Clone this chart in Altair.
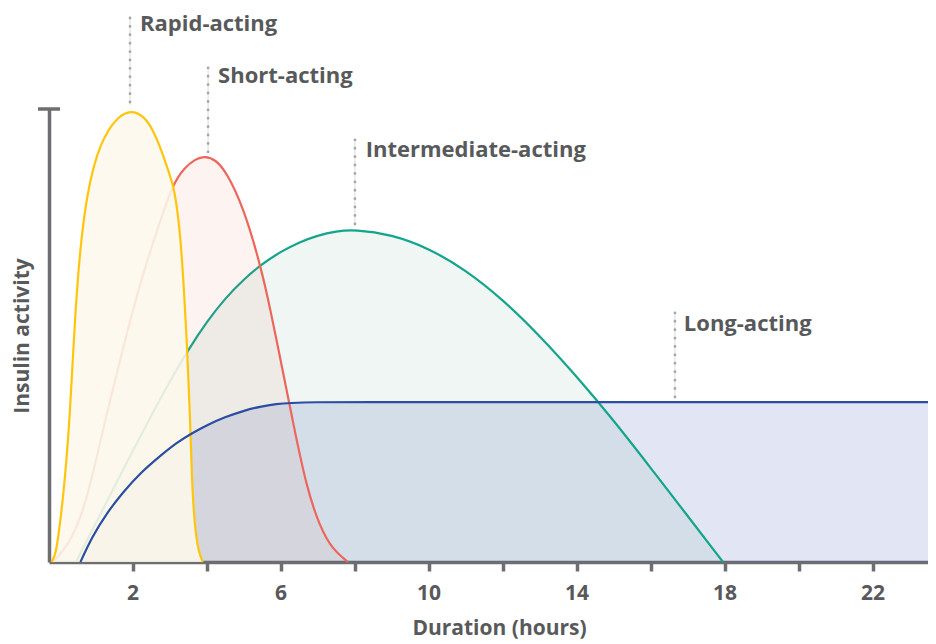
import altair as alt
import pandas as pd

# ---- data (hours vs. relative insulin activity, 0-100) ----
rapid_hours = [-0.19, -0.08, 0.03, 0.17, 0.31, 0.40, 0.50, 0.62, 0.77, 0.95, 1.12, 1.35, 1.60, 1.95,
               2.30, 2.55, 2.80, 3.00, 3.09, 3.20, 3.30, 3.39, 3.47, 3.55, 3.60, 3.68, 3.78, 3.90]
rapid_activity = [0, 1.5, 7.8, 18, 33, 47.5, 61, 72, 81, 87.5, 91.8, 95.5, 98.2, 99.8,
                  98.5, 95.5, 90.5, 85.5, 83.4, 78.5, 71, 60, 48, 33, 18, 7.8, 2.2, 0]

short_hours = [-0.15, 0.25, 0.66, 1.00, 1.30, 1.75, 2.20, 2.65, 3.08, 3.40, 3.70, 3.95, 4.25, 4.54,
               4.99, 5.44, 5.71, 6.07, 6.34, 6.70, 7.06, 7.40, 7.82]
short_activity = [0, 3.5, 10.8, 22, 32.8, 47.5, 61.6, 73, 83.4, 87, 89, 89.6, 88.8, 86,
                  78.4, 66, 56.4, 41.7, 30.7, 16.5, 7.8, 2.8, 0]

inter_hours = [0.47, 1.0, 1.5, 2.0, 2.5, 3.0, 3.5, 4.0, 4.5, 5.0, 5.5, 6.0, 6.5, 7.0, 7.5, 8.0,
               9.0, 10.0, 11.0, 12.0, 13.0, 14.0, 15.0, 16.0, 17.0, 17.96]
inter_activity = [0, 8.5, 16.5, 24.5, 32.3, 39.8, 46.8, 53.0, 58.2, 62.4, 65.8, 68.5, 70.6, 72.1, 73.0, 73.4,
                  72.3, 69.3, 64.5, 58.0, 50.0, 41.0, 31.3, 20.8, 10.2, 0]

long_hours = [0.59, 0.90, 1.30, 1.75, 2.20, 2.74, 3.20, 3.60, 4.00, 4.50, 5.00, 5.44, 5.90, 6.25,
              6.90, 8.0, 12.0, 16.0, 20.0, 24.0]
long_activity = [0, 5.5, 10.8, 15.5, 19.6, 23.4, 26.4, 28.4, 30.2, 32.0, 33.4, 34.3, 34.9, 35.1,
                 35.3, 35.3, 35.3, 35.3, 35.3, 35.3]

ann_labels = ["Rapid-acting", "Short-acting", "Intermediate-acting", "Long-acting"]
ann_line_hour = [1.93, 4.04, 8.01, 16.66]
ann_line_top = [120.1, 109.1, 93.2, 55.0]
ann_line_bottom = [100.9, 90.3, 74.2, 36.0]
ann_text_hour = [2.20, 4.31, 8.30, 16.90]
ann_text_value = [118.8, 107.3, 91.0, 52.6]

tick_values = [2, 4, 6, 8, 10, 12, 14, 16, 18, 20, 22]

# ---- styling ----
AXIS_GRAY = "#6d6e71"
TEXT_GRAY = "#58595b"
FONT = "Open Sans"


def frame(name, h, v):
    return pd.DataFrame({"series": name, "hour": h, "activity": v})


rapid = frame("Rapid-acting", rapid_hours, rapid_activity)
short = frame("Short-acting", short_hours, short_activity)
inter = frame("Intermediate-acting", inter_hours, inter_activity)
longa = frame("Long-acting", long_hours, long_activity)

ann = pd.DataFrame({
    "label": ann_labels,
    "hour": ann_line_hour,
    "activity": ann_line_top,
    "activity2": ann_line_bottom,
    "text_hour": ann_text_hour,
    "text_value": ann_text_value,
})

x_scale = alt.Scale(domain=[-0.26, 23.5], nice=False, zero=False)
y_scale = alt.Scale(domain=[0, 100], nice=False, zero=True)

x_axis = alt.Axis(
    values=tick_values,
    labelExpr="datum.value % 4 == 2 ? datum.label : ''",
    title="Duration (hours)",
    grid=False,
    domainColor=AXIS_GRAY, domainWidth=3.5,
    tickColor=AXIS_GRAY, tickWidth=3.5, tickSize=9,
    labelFont=FONT, labelFontSize=21, labelFontWeight="bold", labelColor=TEXT_GRAY,
    labelPadding=11,
    titleFont=FONT, titleFontSize=21, titleFontWeight="bold", titleColor=TEXT_GRAY,
    titlePadding=14, titleX=450,
)
y_axis = alt.Axis(
    values=[], labels=False, ticks=False, grid=False,
    domainColor=AXIS_GRAY, domainWidth=3.5,
    title="Insulin activity",
    titleFont=FONT, titleFontSize=21, titleFontWeight="bold", titleColor=TEXT_GRAY,
    titlePadding=17,
)

X = alt.X("hour:Q", scale=x_scale, axis=x_axis)
Y = alt.Y("activity:Q", scale=y_scale, axis=y_axis)


def area(df, fill, opacity, clip=False):
    return alt.Chart(df).mark_area(
        interpolate="basis", color=fill, opacity=opacity, clip=clip
    ).encode(x=X, y=Y)


def line(df, color, clip=False):
    return alt.Chart(df).mark_line(
        interpolate="basis", color=color, strokeWidth=2.2, clip=clip
    ).encode(x=X, y=Y)


YELLOW = "#ffc50d"
RED = "#ec665b"
GREEN = "#13a48c"
BLUE = "#2b4ea2"

layers = [
    area(longa, "#3f51b5", 0.15, clip=True),
    area(inter, "#2e8b6e", 0.08),
    line(inter, GREEN),
    area(short, "#e8604c", 0.07),
    line(short, RED),
    area(rapid, "#fdf8ec", 0.88),
    line(rapid, YELLOW),
    line(longa, BLUE, clip=True),
]

ann_faint = alt.Chart(ann).mark_rule(color="#dcdcdc", strokeWidth=1).encode(
    x=X, y=Y, y2="activity2:Q"
)
ann_dots = alt.Chart(ann).mark_rule(
    color="#a5a7aa", strokeWidth=2.8, strokeDash=[0.1, 8.3], strokeCap="round"
).encode(x=X, y=Y, y2="activity2:Q")
ann_text = alt.Chart(ann).mark_text(
    align="left", baseline="middle", font=FONT, fontWeight="bold",
    fontSize=22, color=TEXT_GRAY
).encode(
    x=alt.X("text_hour:Q", scale=x_scale, axis=x_axis),
    y=alt.Y("text_value:Q", scale=y_scale, axis=y_axis),
    text="label:N",
)

cap = alt.Chart(pd.DataFrame({"k": [0]})).mark_rule(
    color=AXIS_GRAY, strokeWidth=3.5
).encode(x=alt.value(-11), x2=alt.value(11), y=alt.value(0))

chart = alt.layer(*layers, ann_faint, ann_dots, ann_text, cap).properties(
    width=879,
    height=453,
    padding={"left": 41, "top": 101, "right": 0, "bottom": 82},
    autosize="none",
).configure_view(stroke="transparent")

chart.save("out.html", embed_options={"renderer": "svg", "actions": False})
